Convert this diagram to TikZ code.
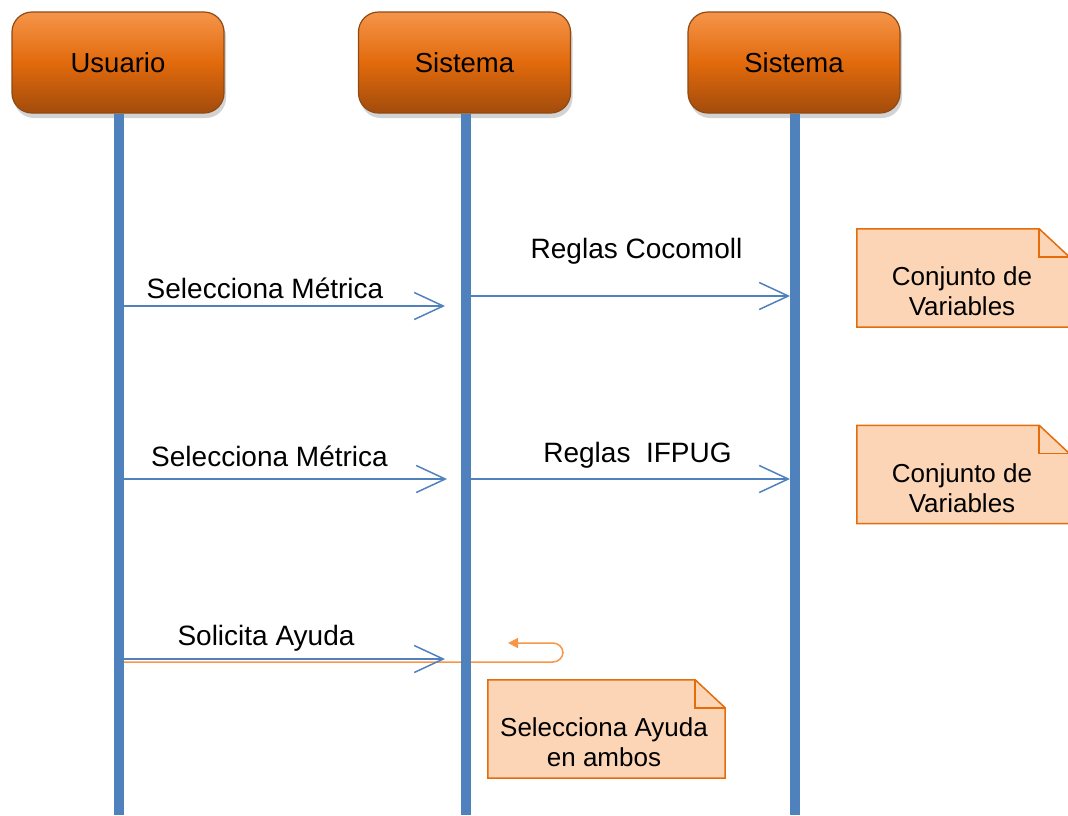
\documentclass[tikz,border=0pt]{standalone}
\usepackage{fontspec}
\setmainfont{Liberation Sans}
\usetikzlibrary{arrows.meta,shadows}
\definecolor{lifeblue}{HTML}{4F81BD}
\definecolor{hdtop}{HTML}{F5954A}
\definecolor{hdmid}{HTML}{E26A0C}
\definecolor{hdbot}{HTML}{A24C0C}
\definecolor{hdborder}{HTML}{8E4A14}
\definecolor{notefill}{HTML}{FBD5B5}
\definecolor{noteline}{HTML}{E46C0A}
\definecolor{loopor}{HTML}{F79646}
\begin{document}
\begin{tikzpicture}[x=1pt,y=-1pt,
  txt/.style={font=\fontsize{26}{30}\selectfont, inner sep=0pt, align=center},
  msgtxt/.style={font=\fontsize{28}{30}\selectfont, inner sep=0pt},
  header/.style={rounded corners=20pt, minimum width=212pt, minimum height=101pt,
    top color=hdtop, bottom color=hdbot, middle color=hdmid, draw=hdborder, line width=1.2pt,
    font=\fontsize{27.5}{30}\selectfont,
    drop shadow={opacity=0.35, shadow xshift=2pt, shadow yshift=-5pt}},
  lifeline/.style={draw=lifeblue, line width=10pt},
  msg/.style={draw=lifeblue, line width=1.5pt, -{Straight Barb[length=29pt,width=27pt,line width=1.5pt]}},
  selfmsg/.style={draw=loopor, line width=1.5pt, rounded corners=10pt, -{Triangle[length=10pt,width=10pt]}},
  notebox/.style={minimum width=212pt, minimum height=98pt, inner sep=0pt},
  noteline/.style={draw=noteline, fill=notefill, line width=1.5pt, line join=miter},
  foldline/.style={draw=noteline, line width=1.5pt}
]
\useasboundingbox (0,0) rectangle (1068,815);
% message end points
\coordinate (m1s) at (123,306); \coordinate (m1e) at (445,306);
\coordinate (m2s) at (471,296); \coordinate (m2e) at (790,296);
\coordinate (m3s) at (123,479); \coordinate (m3e) at (447,479);
\coordinate (m4s) at (471,479); \coordinate (m4e) at (790,479);
\coordinate (m5s) at (123,659); \coordinate (m5e) at (445,659);
\coordinate (l0) at (123,662); \coordinate (la) at (563,662);
\coordinate (lb) at (563,643); \coordinate (l1) at (508,643);
\coordinate (bu) at (118.5,815); \coordinate (bs1) at (465.5,815); \coordinate (bs2) at (794.5,815);
% messages
\draw[selfmsg] (l0) -- (la) -- (lb) -- (l1);
\draw[msg] (m1s) -- (m1e);
\draw[msg] (m2s) -- (m2e);
\draw[msg] (m3s) -- (m3e);
\draw[msg] (m4s) -- (m4e);
\draw[msg] (m5s) -- (m5e);
% headers
\node[header] (hu) at (118,62.5) {Usuario};
\node[header] (hs1) at (464.5,62.5) {Sistema};
\node[header] (hs2) at (794,62.5) {Sistema};
% lifelines
\draw[lifeline] (hu.south -| bu) -- (bu);
\draw[lifeline] (hs1.south -| bs1) -- (bs1);
\draw[lifeline] (hs2.south -| bs2) -- (bs2);
% labels
\node[msgtxt] (t1) at (265,288) {Selecciona Métrica};
\node[msgtxt] (t2) at (636.5,251) {Reglas Cocomoll};
\node[msgtxt] (t3) at (269.5,456) {Selecciona Métrica};
\node[msgtxt] (t4) at (637.5,455) {Reglas\ \ IFPUG};
\node[msgtxt] (t5) at (266,638) {Solicita Ayuda};
% notes
\node[notebox] (n1) at (963,278) {};
\node[notebox] (n2) at (963,474.5) {};
\node[notebox, minimum width=237pt] (n3) at (606.5,729) {};
\foreach \n in {n1,n2,n3}{
  \draw[noteline] (\n.south west) -- (\n.north west) -- ([xshift=-30pt]\n.north east)
     -- ([yshift=-28pt]\n.north east) -- (\n.south east) -- cycle;
  \draw[foldline] ([xshift=-30pt]\n.north east) -- ([xshift=-30pt,yshift=-28pt]\n.north east)
     -- ([yshift=-28pt]\n.north east);
}
\node[txt] (n1t) at (962,291) {Conjunto de\\Variables};
\node[txt] (n2t) at (962,488) {Conjunto de\\Variables};
\node[txt] (n3t) at (604,742) {Selecciona Ayuda\\en ambos};
\end{tikzpicture}
\end{document}
